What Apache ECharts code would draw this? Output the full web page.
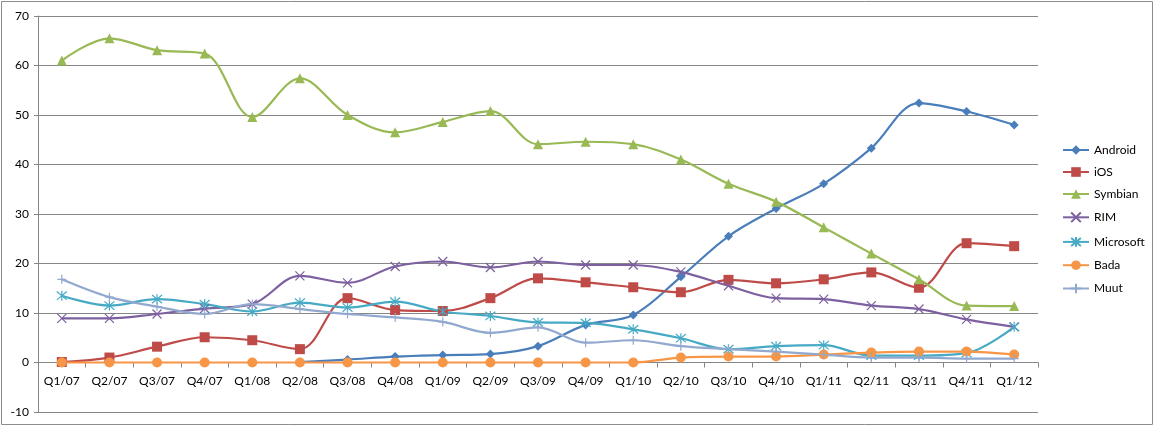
<!DOCTYPE html>
<html>
  <head>
    <title></title>
    <meta charset="UTF-8" />
    <script src="https://cdn.jsdelivr.net/npm/echarts@6/dist/echarts.min.js"></script>
    <style>
      html, body { margin: 0; padding: 0; background: #fff; }
    </style>
  </head>
  <body>
    <div id="main"></div>
    <script>
      const width = 1155;
      const height = 427;
      const main = document.getElementById('main');
      main.style.width = `${width}px`;
      main.style.height = `${height}px`;

      const quarters = [
        'Q1/07', 'Q2/07', 'Q3/07', 'Q4/07', 'Q1/08', 'Q2/08', 'Q3/08',
        'Q4/08', 'Q1/09', 'Q2/09', 'Q3/09', 'Q4/09', 'Q1/10', 'Q2/10',
        'Q3/10', 'Q4/10', 'Q1/11', 'Q2/11', 'Q3/11', 'Q4/11', 'Q1/12'
      ];

      const android = [null, null, null, null, null, 0.1, 0.6, 1.2, 1.5, 1.7, 3.3, 7.6, 9.6, 17.3, 25.5, 31.1, 36.1, 43.3, 52.4, 50.7, 48.0];
      const ios = [0.1, 1.0, 3.2, 5.1, 4.5, 2.7, 13.0, 10.6, 10.4, 13.0, 17.0, 16.2, 15.2, 14.2, 16.7, 16.0, 16.8, 18.2, 15.1, 24.1, 23.5];
      const symbian = [61.0, 65.5, 63.1, 62.4, 49.6, 57.4, 50.0, 46.5, 48.6, 50.8, 44.1, 44.6, 44.1, 41.0, 36.1, 32.5, 27.3, 22.0, 16.8, 11.5, 11.4];
      const rim = [8.9, 8.9, 9.8, 10.9, 11.8, 17.5, 16.1, 19.4, 20.4, 19.2, 20.4, 19.7, 19.7, 18.3, 15.5, 13.0, 12.8, 11.5, 10.8, 8.7, 7.2];
      const microsoft = [13.5, 11.5, 12.8, 11.8, 10.3, 12.1, 11.1, 12.3, 10.3, 9.4, 8.1, 8.0, 6.7, 4.9, 2.7, 3.3, 3.5, 1.4, 1.4, 1.9, 7.2];
      const bada = [0, 0, 0, 0, 0, 0, 0, 0, 0, 0, 0, 0, 0, 1.0, 1.2, 1.2, 1.6, 2.0, 2.2, 2.2, 1.6];
      const muut = [16.8, 13.2, 11.3, 9.8, 11.8, 10.8, 9.8, 9.1, 8.2, 6.0, 7.1, 4.0, 4.5, 3.3, 2.7, 2.2, 1.6, 1.0, 1.0, 0.8, 0.8];

      const yTicks = { min: -10, max: 70, interval: 10 };

      const xMark = 'path://M0,0L10,10M10,0L0,10';
      const starMark = 'path://M0,0L10,10M10,0L0,10M5,-1L5,11';
      const plusMark = 'path://M0,5L10,5M5,0L5,10';

      const font = 'Lato, "Open Sans", sans-serif';

      const gridTop = 16;
      const gridBottom = 15;
      // x axis sits on the zero line: shift it up from the bottom by one interval
      const plotH = height - gridTop - gridBottom;
      const zeroOffset = -plotH * (0 - yTicks.min) / (yTicks.max - yTicks.min);

      function makeSeries(name, data, color, symbol, size, strokeSymbol) {
        const s = {
          name,
          type: 'line',
          data,
          smooth: 0.35,
          symbol,
          symbolSize: size,
          showAllSymbol: true,
          lineStyle: { width: 2.2, color },
          itemStyle: { color },
          emphasis: { disabled: true },
          animation: false,
        };
        if (strokeSymbol) {
          s.itemStyle = { color: 'none', borderColor: color, borderWidth: 1.2 };
        }
        return s;
      }

      const series = [
        makeSeries('Android', android, '#4A7EBB', 'diamond', 9),
        makeSeries('iOS', ios, '#BE4B48', 'rect', 10),
        makeSeries('Symbian', symbian, '#98B954', 'triangle', 10),
        makeSeries('RIM', rim, '#7D60A0', xMark, 9, true),
        makeSeries('Microsoft', microsoft, '#46AAC5', starMark, 10, true),
        makeSeries('Bada', bada, '#F79646', 'circle', 10),
        makeSeries('Muut', muut, '#92A9CF', plusMark, 9, true),
      ];

      const myChart = echarts.init(main, null, { renderer: 'canvas' });
      const option = {
        animation: false,
        color: series.map((s) => s.lineStyle.color),
        textStyle: { fontFamily: font },
        graphic: [
          {
            type: 'rect',
            shape: { x: 1.5, y: 1.5, width: 1151, height: 423 },
            style: { fill: 'none', stroke: '#8c8c8c', lineWidth: 1 },
            silent: true,
          },
        ],
        grid: {
          left: 38,
          right: 117,
          top: gridTop,
          bottom: gridBottom,
          containLabel: false,
          outerBoundsMode: 'none',
        },
        legend: {
          orient: 'vertical',
          left: 1057,
          top: 139,
          itemWidth: 26,
          itemHeight: 12,
          itemGap: 10,
          textStyle: { fontSize: 12, color: '#000', fontFamily: font },
          data: series.map((s) => s.name),
        },
        xAxis: {
          type: 'category',
          data: quarters,
          boundaryGap: true,
          position: 'bottom',
          offset: zeroOffset,
          axisLine: { onZero: false, lineStyle: { color: '#868686', width: 1 } },
          axisTick: {
            show: true,
            interval: 0,
            alignWithLabel: false,
            length: 5,
            lineStyle: { color: '#868686' },
          },
          axisLabel: {
            interval: 0,
            margin: 13,
            fontSize: 12,
            color: '#000',
            fontFamily: font,
          },
          splitLine: { show: false },
        },
        yAxis: {
          type: 'value',
          min: yTicks.min,
          max: yTicks.max,
          interval: yTicks.interval,
          axisLine: { show: true, lineStyle: { color: '#868686', width: 1 } },
          axisTick: { show: true, length: 4, lineStyle: { color: '#868686' } },
          axisLabel: {
            margin: 9,
            fontSize: 12,
            color: '#000',
            fontFamily: font,
          },
          splitLine: { show: true, lineStyle: { color: '#868686', width: 1 } },
        },
        series,
      };
      myChart.setOption(option);
    </script>
  </body>
</html>
